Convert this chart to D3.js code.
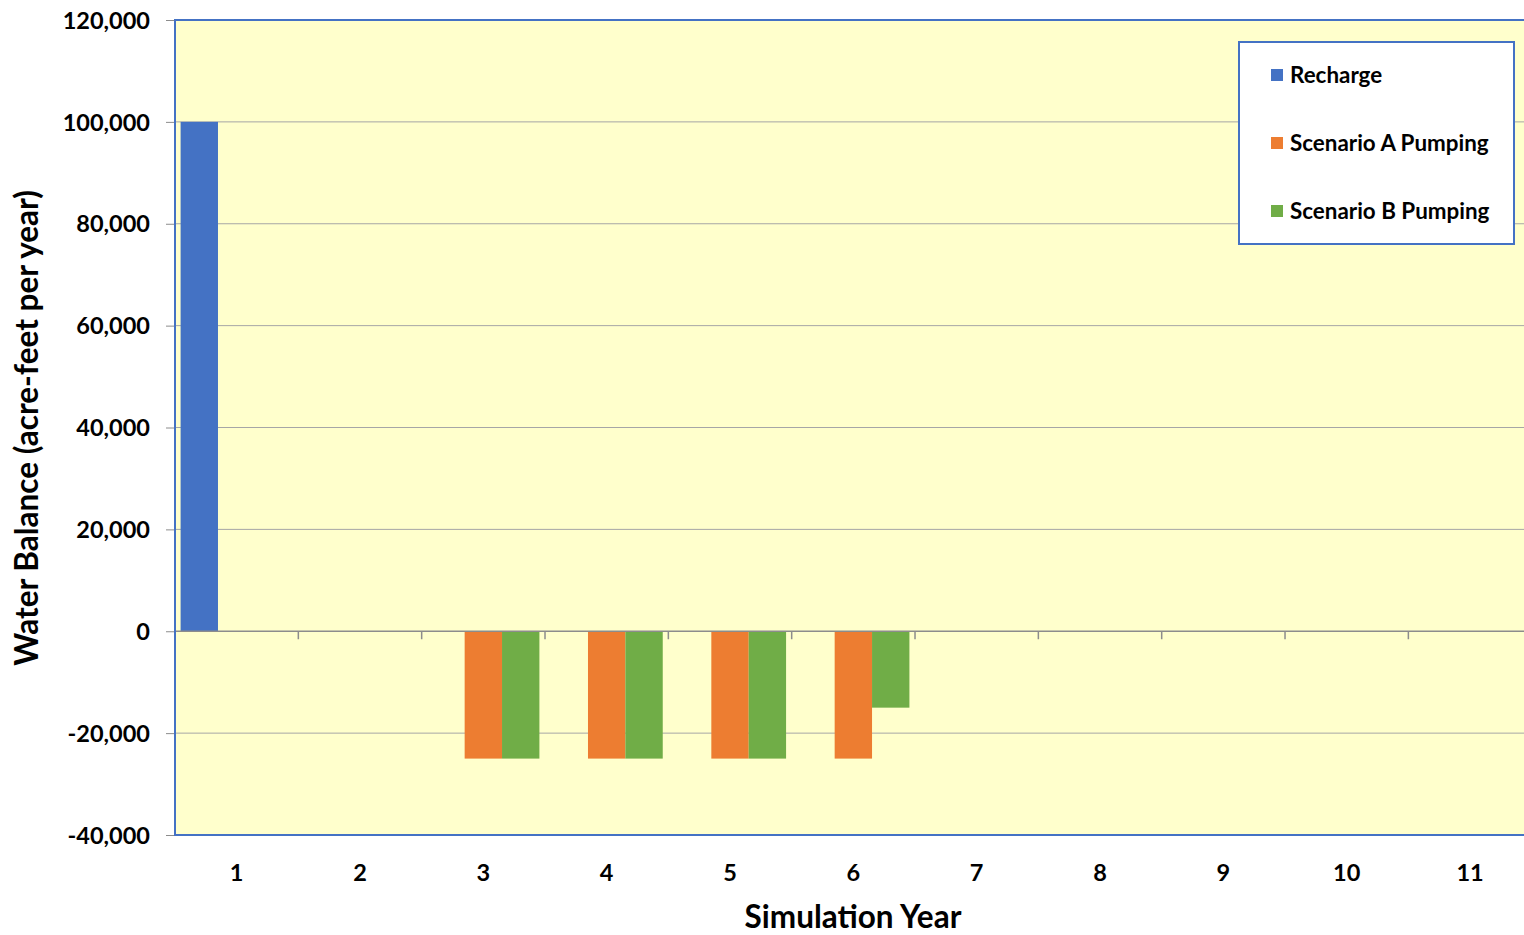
<!DOCTYPE html>
<html>
<head>
<meta charset="utf-8">
<script src="https://cdn.jsdelivr.net/npm/d3@7"></script>
<style>
  html, body { margin: 0; padding: 0; background: #ffffff; }
  svg { display: block; }
  text { font-family: Lato, "Open Sans", sans-serif; font-weight: bold; fill: #000; }
</style>
</head>
<body>
<svg id="chart" width="1524" height="935"></svg>
<script>
// Simulation years (categories)
const years = ["1", "2", "3", "4", "5", "6", "7", "8", "9", "10", "11"];

// Series values, acre-feet per year
const recharge   = [100000, 0, 0, 0, 0, 0, 0, 0, 0, 0, 0];
const scenarioA  = [0, 0, -25000, -25000, -25000, -25000, 0, 0, 0, 0, 0];
const scenarioB  = [0, 0, -25000, -25000, -25000, -15000, 0, 0, 0, 0, 0];

const seriesNames  = ["Recharge", "Scenario A Pumping", "Scenario B Pumping"];
const seriesColors = ["#4472C4", "#ED7D31", "#70AD47"];
const seriesValues = [recharge, scenarioA, scenarioB];

// Y-axis ticks
const yTicks = [-40000, -20000, 0, 20000, 40000, 60000, 80000, 100000, 120000];

const svg = d3.select("#chart");

const plot = { left: 175, top: 20, right: 1531.7, bottom: 835 };

const x = d3.scaleBand().domain(years).range([plot.left, plot.right]).paddingInner(0).paddingOuter(0);
const x1 = d3.scaleBand().domain(seriesNames).range([0, x.bandwidth()]).paddingInner(0).paddingOuter(0.15);
const y = d3.scaleLinear().domain([-40000, 120000]).range([plot.bottom, plot.top]);

// Thousands separator with a plain hyphen for negatives
const fmt = d => d3.format(",")(d).replace("\u2212", "-");

// Plot background
svg.append("rect")
  .attr("x", plot.left).attr("y", plot.top)
  .attr("width", plot.right - plot.left).attr("height", plot.bottom - plot.top)
  .attr("fill", "#FFFFCC");

// Horizontal gridlines
svg.append("g")
  .selectAll("line")
  .data(yTicks.filter(d => d !== 0 && d !== -40000 && d !== 120000))
  .join("line")
  .attr("x1", plot.left).attr("x2", plot.right)
  .attr("y1", d => y(d)).attr("y2", d => y(d))
  .attr("stroke", "#A6A6A6").attr("stroke-width", 1);

// Bars
const rows = years.map((yr, i) => ({ year: yr, values: seriesNames.map((s, k) => ({ key: s, value: seriesValues[k][i], color: seriesColors[k] })) }));

svg.append("g")
  .selectAll("g")
  .data(rows)
  .join("g")
  .attr("transform", d => `translate(${x(d.year)},0)`)
  .selectAll("rect")
  .data(d => d.values.filter(v => v.value !== 0))
  .join("rect")
  .attr("x", d => x1(d.key))
  .attr("width", x1.bandwidth())
  .attr("y", d => y(Math.max(0, d.value)))
  .attr("height", d => Math.abs(y(d.value) - y(0)))
  .attr("fill", d => d.color);

// Y axis with labels and outside tick marks
const yAxis = d3.axisLeft(y).tickValues(yTicks).tickSize(9).tickPadding(16)
  .tickFormat(fmt);
const gy = svg.append("g")
  .attr("transform", `translate(${plot.left},0)`)
  .call(yAxis);
gy.select(".domain").remove();
gy.selectAll(".tick line").attr("stroke", "#8C8C8C");
gy.selectAll(".tick text")
  .attr("font-size", 23.5).attr("font-family", "Lato, sans-serif").attr("font-weight", "bold")
  .attr("fill", "#000").attr("dy", "0.35em");

// Category axis along zero with downward tick marks at band boundaries
svg.append("line")
  .attr("x1", plot.left).attr("x2", plot.right)
  .attr("y1", y(0)).attr("y2", y(0))
  .attr("stroke", "#8C8C8C").attr("stroke-width", 1.5);
svg.append("g")
  .selectAll("line")
  .data(years.slice(1))
  .join("line")
  .attr("x1", d => x(d)).attr("x2", d => x(d))
  .attr("y1", y(0)).attr("y2", y(0) + 8)
  .attr("stroke", "#8C8C8C").attr("stroke-width", 1.5);

// Category labels below the plot
svg.append("g")
  .selectAll("text")
  .data(years)
  .join("text")
  .attr("x", d => x(d) + x.bandwidth() / 2)
  .attr("y", 881)
  .attr("text-anchor", "middle")
  .attr("font-size", 23.5)
  .text(d => d);

// Plot border
svg.append("rect")
  .attr("x", plot.left).attr("y", plot.top)
  .attr("width", plot.right - plot.left).attr("height", plot.bottom - plot.top)
  .attr("fill", "none").attr("stroke", "#4472C4").attr("stroke-width", 2);

// Axis titles
svg.append("text")
  .attr("x", 853).attr("y", 928)
  .attr("text-anchor", "middle")
  .attr("font-size", 31.5)
  .text("Simulation Year");

svg.append("text")
  .attr("transform", "translate(38,428) rotate(-90)")
  .attr("text-anchor", "middle")
  .attr("font-size", 31.5)
  .text("Water Balance (acre-feet per year)");

// Legend
const legend = svg.append("g");
legend.append("rect")
  .attr("x", 1239).attr("y", 42).attr("width", 275).attr("height", 202)
  .attr("fill", "#ffffff").attr("stroke", "#4472C4").attr("stroke-width", 2);
const li = legend.selectAll("g.item")
  .data(seriesNames.map((s, k) => ({ name: s, color: seriesColors[k] })))
  .join("g").attr("class", "item")
  .attr("transform", (d, i) => `translate(1271,${75 + i * 68})`);
li.append("rect").attr("x", 0).attr("y", -6).attr("width", 12).attr("height", 12).attr("fill", d => d.color);
li.append("text").attr("x", 19).attr("y", 0).attr("dy", "0.35em")
  .attr("font-size", 22.4).text(d => d.name);
</script>
</body>
</html>
